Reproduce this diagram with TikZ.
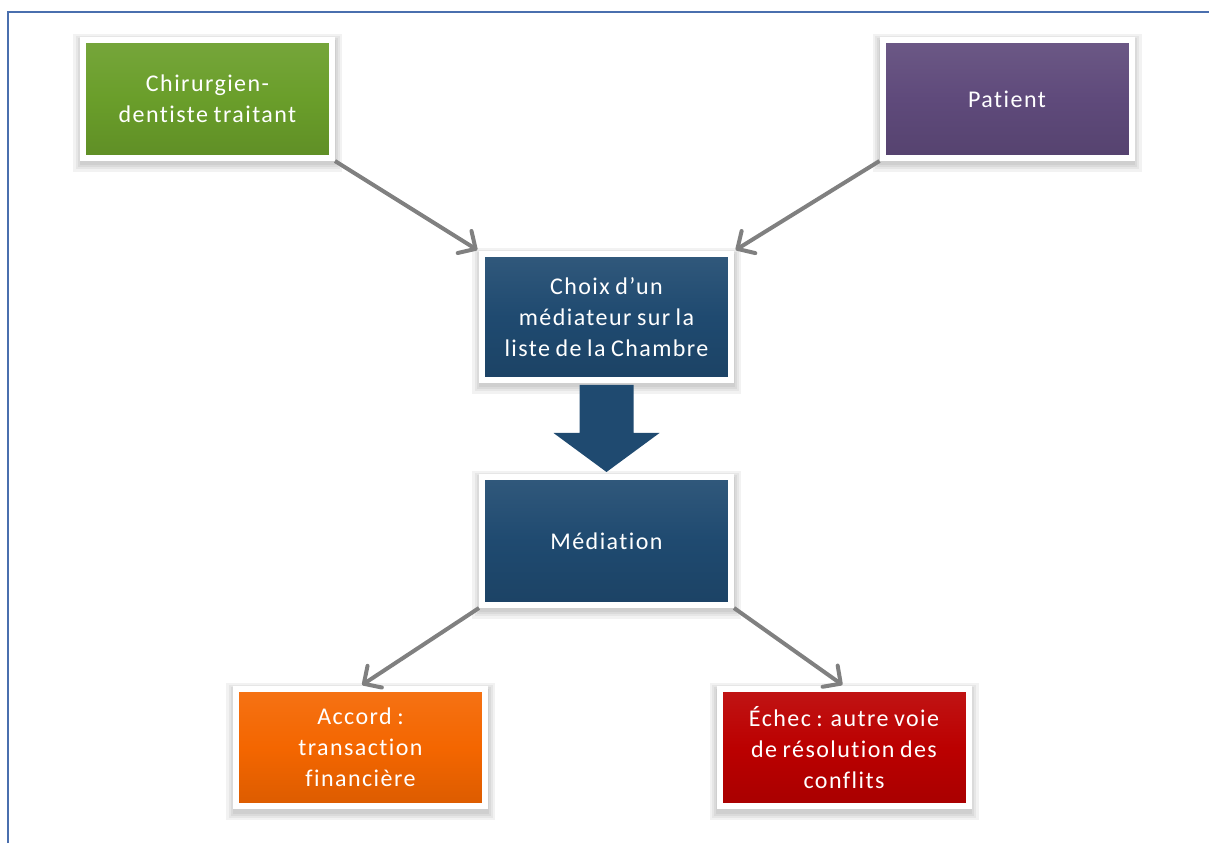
\documentclass[tikz,border=0pt]{standalone}
\usepackage{fontspec}
\setmainfont{Carlito}[LetterSpace=6,WordSpace=0.8,Ligatures={NoCommon}]
\usetikzlibrary{arrows.meta,shadows}
\definecolor{cadre}{HTML}{4A6FAE}
\definecolor{vert}{HTML}{6A9E2A}
\definecolor{violet}{HTML}{5F4A7B}
\definecolor{marine}{HTML}{1F4A70}
\definecolor{orange}{HTML}{F46600}
\definecolor{rouge}{HTML}{BB0000}
\definecolor{gris}{HTML}{808080}
\tikzset{
	flou/.style={general shadow={draw=black,line width=#1,draw opacity=0.05,shadow xshift=0pt,shadow yshift=-4pt}},
	boite/.style={draw=white,line width=6pt,top color=#1!92!white,bottom color=#1!90!black,middle color=#1,
		minimum width=249pt,minimum height=118pt,text=white,align=center,
		font=\fontsize{24}{31}\selectfont,
		flou=20pt,flou=15pt,flou=11pt,flou=7pt},
	fleche/.style={draw=gris,line width=4pt,-{Straight Barb[length=13pt,width=26pt,round]},shorten >=2pt}
}

\begin{document}
\begin{tikzpicture}[x=1pt,y=1pt]
		\useasboundingbox (0,0) rectangle (1209,843);
		\draw[color=cadre,line width=1.5pt] (8,0) -- (8,831) -- (1209,831);
		\node[boite=vert] (chirurgien) at (207.5,744) {Chirurgien-\\dentiste traitant};
		\node[boite=violet] (patient) at (1007,744) {Patient};
		\node[boite=marine,minimum height=126pt] (choix) at (606.5,526) {Choix d’un\\médiateur sur la\\liste de la Chambre};
		\node[boite=marine,minimum height=128pt] (mediation) at (606.5,302) {Médiation};
		\node[boite=orange,minimum height=117pt] (accord) at (360.5,95.5) {Accord :\\transaction\\financière};
		\node[boite=rouge,minimum height=117pt] (echec) at (844,95.5) {Échec : autre voie\\de résolution des\\conflits};
		\draw[fleche] (chirurgien.south east) -- (choix.north west);
		\draw[fleche] (patient.south west) -- (choix.north east);
		\draw[fleche] (mediation.south west) -- (accord.north);
		\draw[fleche] (mediation.south east) -- (echec.north);
		\fill[color=marine] (579.5,458) -- (633.5,458) -- (633.5,410) -- (659.5,410)
			-- (606.5,371) -- (553.5,410) -- (579.5,410) -- cycle;
\end{tikzpicture}
\end{document}
